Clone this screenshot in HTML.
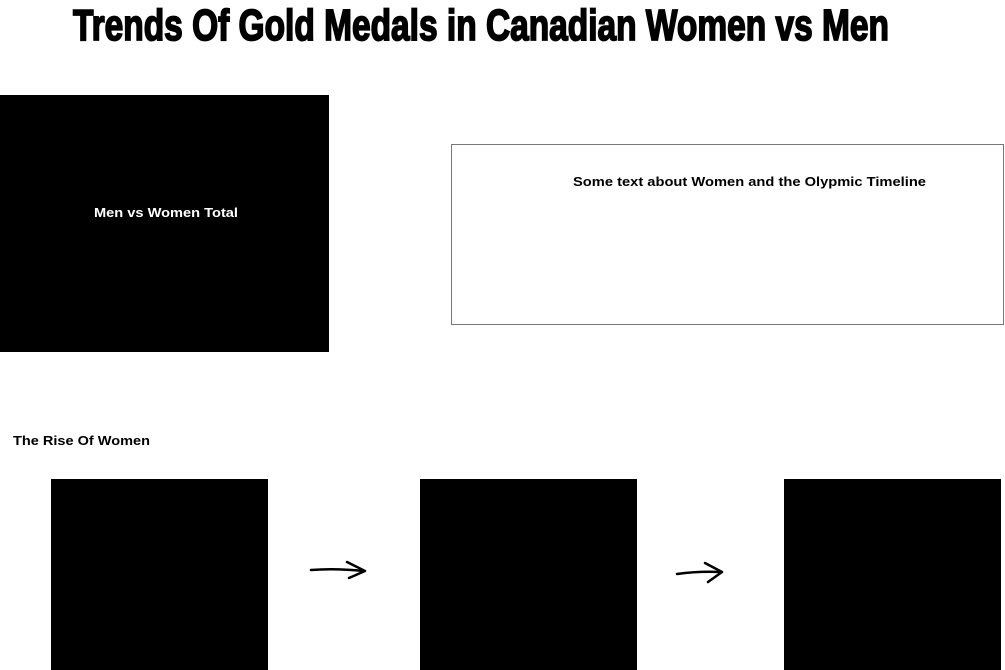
<!DOCTYPE html>
<html>
<head>
<meta charset="utf-8">
<style>
html,body{margin:0;padding:0;background:#fff;width:1005px;height:670px;overflow:hidden;}
svg{display:block;}
text{font-family:"Liberation Sans",sans-serif;}
</style>
</head>
<body>
<svg width="1005" height="670" viewBox="0 0 1005 670">
  <text x="73" y="40" font-family="Liberation Sans Narrow, Liberation Sans, sans-serif" font-weight="bold" font-size="44" textLength="816" lengthAdjust="spacingAndGlyphs" fill="#000" stroke="#000" stroke-width="1.8">Trends Of Gold Medals in Canadian Women vs Men</text>

  <g>
    <rect x="0" y="95" width="329" height="257" fill="#000"/>
    <text x="94" y="217" textLength="144" lengthAdjust="spacingAndGlyphs" font-weight="bold" font-size="13" fill="#fff">Men vs Women Total</text>
  </g>

  <g>
    <rect x="451.5" y="144.5" width="552" height="180" fill="#fff" stroke="#777" stroke-width="1"/>
    <text x="573" y="186" textLength="353" lengthAdjust="spacingAndGlyphs" font-weight="bold" font-size="13" fill="#000">Some text about Women and the Olypmic Timeline</text>
  </g>

  <text x="13" y="445" textLength="137" lengthAdjust="spacingAndGlyphs" font-weight="bold" font-size="13" fill="#000">The Rise Of Women</text>

  <rect x="51" y="479" width="217" height="191" fill="#000"/>
  <rect x="420" y="479" width="217" height="191" fill="#000"/>
  <rect x="784" y="479" width="217" height="191" fill="#000"/>

  <g fill="none" stroke="#000" stroke-width="2.5" stroke-linecap="round" stroke-linejoin="round">
    <path d="M311 570 Q335 568 364 571"/>
    <path d="M347 562 L365 571 L349 578"/>
  </g>
  <g fill="none" stroke="#000" stroke-width="2.5" stroke-linecap="round" stroke-linejoin="round">
    <path d="M677 574 Q698 571 721 572"/>
    <path d="M705 563 L722 572 L708 582"/>
  </g>
</svg>
</body>
</html>
